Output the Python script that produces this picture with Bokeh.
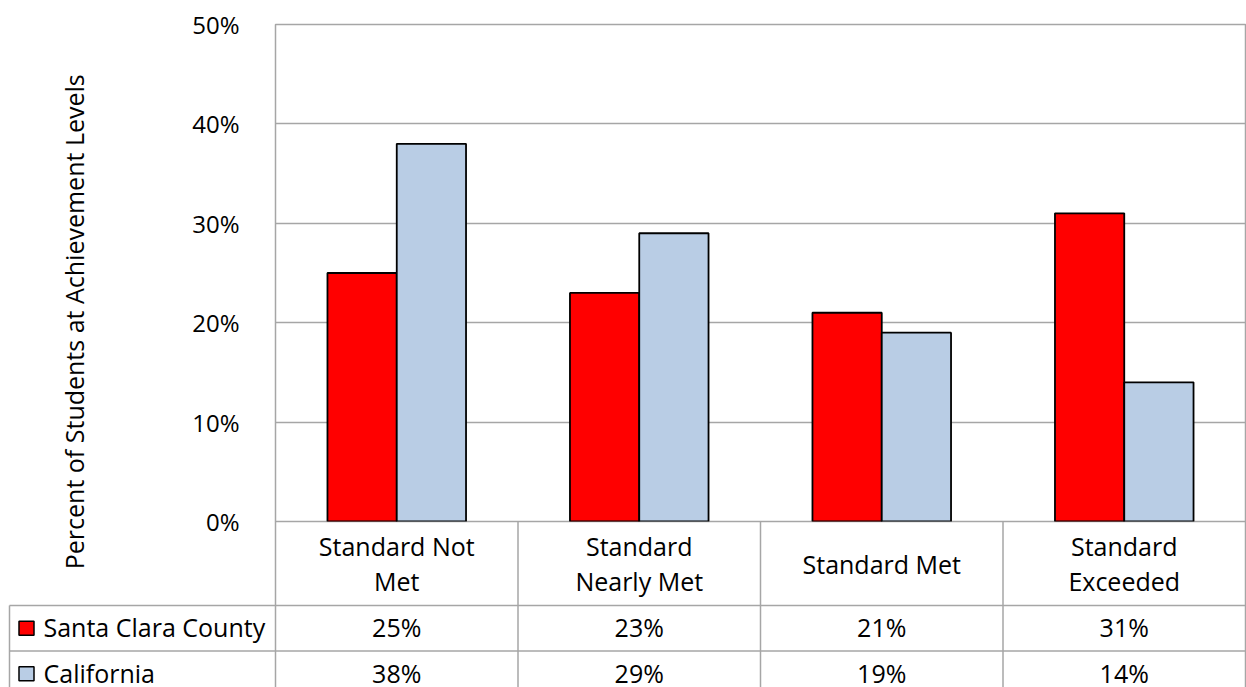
import numpy as np
from bokeh.plotting import figure
from bokeh.models import Range1d, FixedTicker, PrintfTickFormatter
from bokeh.core.properties import value
from bokeh.embed import file_html
from bokeh.resources import INLINE

# ---- data ----
categories = ["Standard Not\nMet", "Standard\nNearly Met", "Standard Met", "Standard\nExceeded"]
series_names = ["Santa Clara County", "California"]
santa_clara = [25, 23, 21, 31]
california = [38, 29, 19, 14]
y_ticks = [0, 10, 20, 30, 40, 50]
y_title = "Percent of Students at  Achievement Levels"

# ---- styling ----
FONT = "Open Sans"
GRID = "#A6A6A6"
RED = "#FF0000"
BLUE = "#B9CDE5"
series_colors = [RED, BLUE]

# ---- layout (pixels) ----
W, H = 1246, 687
PLOT_LEFT = 275
PLOT_TOP = 24
PLOT_H = 497          # height of the 0%..50% band
CAT_W = 242.5         # width of one category column
HEADER_H = 84         # header row of the data table
ROW_H = 45.5          # one series row of the data table
TITLE_CY = 318        # vertical centre of the axis title

n = len(categories)
bar_w = 2 / 7         # two bars plus a 150% gap fill one category
xc = np.arange(n) + 0.5
px_per_pct = PLOT_H / y_ticks[-1]

p = figure(width=W, height=H,
           x_range=Range1d(0, n), y_range=Range1d(0, y_ticks[-1]),
           x_axis_location=None,
           output_backend="svg", toolbar_location=None,
           min_border_left=PLOT_LEFT, min_border_right=int(W - PLOT_LEFT - n * CAT_W),
           min_border_top=PLOT_TOP, min_border_bottom=H - PLOT_TOP - PLOT_H,
           background_fill_color="white", border_fill_color="white")
p.outline_line_color = GRID
p.outline_line_width = 1.5
p.xgrid.visible = False
p.ygrid.grid_line_color = GRID
p.ygrid.grid_line_width = 1.5

yax = p.yaxis[0]
yax.ticker = FixedTicker(ticks=y_ticks)
yax.formatter = PrintfTickFormatter(format="%d%%")
yax.axis_line_color = None
yax.major_tick_line_color = None
yax.minor_tick_line_color = None
yax.major_label_standoff = 30
yax.major_label_text_font = FONT
yax.major_label_text_font_size = "24px"
yax.major_label_text_color = "black"

# bars
p.vbar(x=xc - bar_w / 2, top=santa_clara, width=bar_w, bottom=0,
       fill_color=RED, line_color="black", line_width=1.8)
p.vbar(x=xc + bar_w / 2, top=california, width=bar_w, bottom=0,
       fill_color=BLUE, line_color="black", line_width=1.8)

# vertical axis title, left of the tick labels (drawn above the frame clip)
p.text(x=[(73 - PLOT_LEFT) / CAT_W], y=[(PLOT_TOP + PLOT_H - TITLE_CY) / px_per_pct],
       text=[y_title], angle=np.pi / 2, text_align="center", text_baseline="middle",
       text_font=value(FONT), text_font_size="25px", text_color="black", level="overlay")

# ---- data table under the chart ----
# "tbl" range: pixels below the category axis
p.extra_y_ranges = {"tbl": Range1d(start=0, end=-PLOT_H)}
TBL = dict(y_range_name="tbl", level="overlay")

x_leg = (9 - PLOT_LEFT) / CAT_W
bottom = H - PLOT_TOP - PLOT_H + 20
row_y = [HEADER_H + ROW_H * (i + 0.5) for i in range(len(series_names))]

# column dividers
p.segment(x0=list(range(n + 1)), y0=[0] * (n + 1), x1=list(range(n + 1)), y1=[bottom] * (n + 1),
          line_color=GRID, line_width=1.5, **TBL)
# row dividers
ys = [HEADER_H + ROW_H * i for i in range(len(series_names))]
p.segment(x0=[x_leg] * len(ys), y0=ys, x1=[n] * len(ys), y1=ys,
          line_color=GRID, line_width=1.5, **TBL)
# left edge of the legend column
p.segment(x0=[x_leg], y0=[HEADER_H], x1=[x_leg], y1=[bottom],
          line_color=GRID, line_width=1.5, **TBL)

# category headers
p.text(x=xc, y=[HEADER_H / 2] * n, text=categories, text_align="center", text_baseline="middle",
       text_font=value(FONT), text_font_size="25px", text_color="black", text_line_height=1.03, **TBL)

# legend keys and series names
p.rect(x=[(26 - PLOT_LEFT) / CAT_W] * 2, y=row_y, width=15, height=14,
       width_units="screen", height_units="screen",
       fill_color=series_colors, line_color="black", line_width=1.5, **TBL)
p.text(x=[(43 - PLOT_LEFT) / CAT_W] * 2, y=[yy - 1 for yy in row_y], text=series_names,
       text_align="left", text_baseline="middle",
       text_font=value(FONT), text_font_size="25px", text_color="black", **TBL)

# values
for vals, yy in zip([santa_clara, california], row_y):
    p.text(x=xc, y=[yy - 1] * n, text=[f"{v}%" for v in vals], text_align="center", text_baseline="middle",
           text_font=value(FONT), text_font_size="25px", text_color="black", **TBL)

open("out.html", "w").write(file_html(p, INLINE))
